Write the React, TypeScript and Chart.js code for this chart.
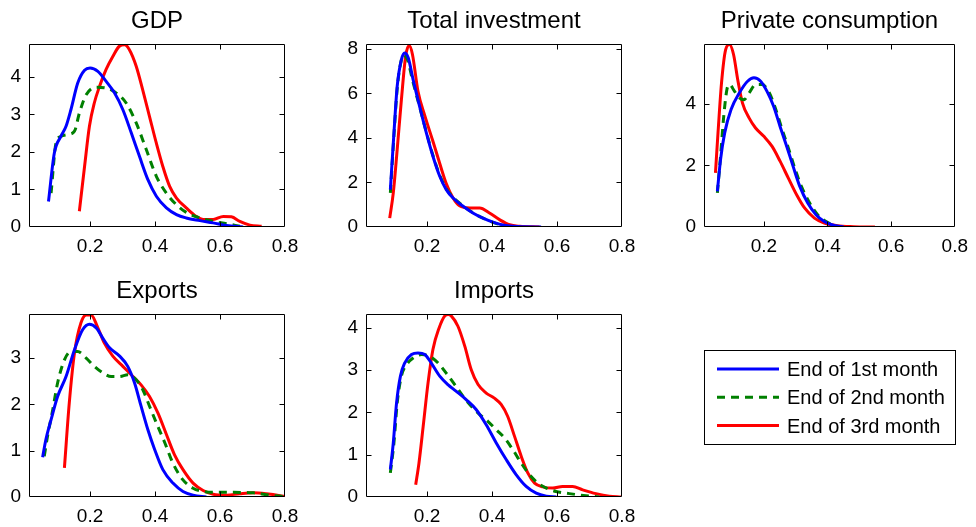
import React, { useEffect, useRef } from "react";
import { Chart, registerables } from "chart.js";
Chart.register(...registerables);

const W = 976;
const H = 527;
const FONT = '"Liberation Sans", Arial, Helvetica, sans-serif';

const seriesLabels = ["End of 1st month", "End of 2nd month", "End of 3rd month"];
const seriesColors = ["#0000ff", "#008000", "#ff0000"];
const xTicks = [0.2, 0.4, 0.6, 0.8];
const X_MIN = 0.012;
const X_MAX = 0.8;

// ---- GDP ----
const gdpX1 = [0.072, 0.09, 0.11, 0.126, 0.141, 0.162, 0.183, 0.2, 0.224, 0.249, 0.275, 0.301, 0.327, 0.352, 0.378, 0.404, 0.435, 0.466, 0.496, 0.538, 0.579, 0.62, 0.671];
const gdpY1 = [0.68, 1.97, 2.41, 2.68, 3.12, 3.83, 4.17, 4.23, 4.14, 3.88, 3.57, 3.12, 2.5, 1.88, 1.26, 0.82, 0.51, 0.33, 0.24, 0.17, 0.11, 0.04, 0.0];
const gdpX2 = [0.08, 0.095, 0.11, 0.131, 0.152, 0.167, 0.188, 0.219, 0.249, 0.28, 0.311, 0.342, 0.373, 0.404, 0.435, 0.466, 0.496, 0.538, 0.579, 0.62, 0.661];
const gdpY2 = [0.9, 2.23, 2.41, 2.46, 2.55, 3.03, 3.52, 3.72, 3.7, 3.57, 3.3, 2.77, 2.06, 1.35, 0.9, 0.59, 0.39, 0.24, 0.15, 0.09, 0.02];
const gdpX3 = [0.167, 0.183, 0.198, 0.213, 0.229, 0.249, 0.27, 0.29, 0.306, 0.321, 0.342, 0.362, 0.383, 0.404, 0.424, 0.445, 0.466, 0.496, 0.527, 0.548, 0.579, 0.61, 0.635, 0.661, 0.692, 0.728];
const gdpY3 = [0.42, 1.61, 2.68, 3.3, 3.74, 4.19, 4.54, 4.81, 4.85, 4.72, 4.28, 3.65, 2.94, 2.23, 1.61, 1.08, 0.77, 0.51, 0.28, 0.2, 0.2, 0.28, 0.27, 0.15, 0.05, 0.02];
const gdpYTicks = [0, 1, 2, 3, 4];
const gdpYMax = 4.87;

// ---- Total investment ----
const invX1 = [0.087, 0.098, 0.108, 0.121, 0.131, 0.142, 0.157, 0.177, 0.198, 0.218, 0.239, 0.259, 0.28, 0.311, 0.341, 0.372, 0.403, 0.433, 0.464, 0.5, 0.551];
const invY1 = [1.68, 4.22, 6.32, 7.52, 7.82, 7.6, 6.62, 5.42, 4.22, 3.18, 2.28, 1.68, 1.3, 0.93, 0.63, 0.4, 0.22, 0.09, 0.03, 0.01, 0];
const invX2 = [0.087, 0.098, 0.108, 0.12, 0.129, 0.14, 0.156, 0.177, 0.198, 0.218, 0.239, 0.259, 0.28, 0.311, 0.341, 0.372, 0.403, 0.433, 0.464];
const invY2 = [1.53, 4.1, 6.2, 7.45, 7.72, 7.5, 6.55, 5.4, 4.25, 3.22, 2.32, 1.72, 1.33, 0.95, 0.64, 0.4, 0.21, 0.07, 0.0];
const invX3 = [0.085, 0.096, 0.108, 0.121, 0.134, 0.145, 0.155, 0.172, 0.193, 0.218, 0.239, 0.259, 0.28, 0.3, 0.331, 0.362, 0.392, 0.423, 0.454, 0.485, 0.546];
const invY3 = [0.4, 1.53, 3.48, 5.72, 7.67, 8.15, 7.75, 6.1, 5.0, 3.85, 2.85, 1.95, 1.3, 0.95, 0.85, 0.85, 0.63, 0.33, 0.1, 0.03, 0];
const invYTicks = [0, 2, 4, 6, 8];
const invYMax = 8.22;

// ---- Private consumption ----
const conX1 = [0.054, 0.064, 0.077, 0.097, 0.123, 0.149, 0.169, 0.19, 0.21, 0.231, 0.251, 0.272, 0.292, 0.313, 0.338, 0.364, 0.39, 0.421, 0.451];
const conY1 = [1.16, 2.19, 3.06, 3.82, 4.36, 4.74, 4.85, 4.74, 4.41, 3.92, 3.27, 2.62, 1.97, 1.32, 0.78, 0.4, 0.18, 0.05, 0];
const conX2 = [0.054, 0.064, 0.074, 0.084, 0.092, 0.108, 0.123, 0.138, 0.154, 0.174, 0.195, 0.215, 0.236, 0.256, 0.277, 0.297, 0.318, 0.344, 0.369, 0.4, 0.431];
const conY2 = [1.11, 2.3, 3.6, 4.47, 4.63, 4.41, 4.2, 4.14, 4.36, 4.63, 4.63, 4.41, 3.87, 3.22, 2.57, 1.92, 1.32, 0.78, 0.4, 0.15, 0.02];
const conX3 = [0.048, 0.056, 0.067, 0.08, 0.092, 0.105, 0.118, 0.133, 0.154, 0.174, 0.2, 0.226, 0.251, 0.277, 0.303, 0.328, 0.359, 0.39, 0.431, 0.482, 0.549];
const conY3 = [1.76, 3.06, 4.68, 5.77, 5.93, 5.6, 4.79, 4.03, 3.54, 3.22, 2.95, 2.62, 2.14, 1.59, 1.05, 0.62, 0.29, 0.13, 0.04, 0.01, 0];
const conYTicks = [0, 2, 4];
const conYMax = 5.95;

// ---- Exports ----
const expX1 = [0.054, 0.064, 0.08, 0.1, 0.126, 0.152, 0.177, 0.198, 0.219, 0.239, 0.26, 0.291, 0.316, 0.337, 0.357, 0.378, 0.399, 0.424, 0.455, 0.486, 0.517, 0.558];
const expY1 = [0.86, 1.24, 1.67, 2.17, 2.6, 3.18, 3.61, 3.73, 3.65, 3.43, 3.22, 3.04, 2.82, 2.46, 1.96, 1.45, 1.02, 0.59, 0.3, 0.12, 0.04, 0];
const expX2 = [0.059, 0.069, 0.085, 0.1, 0.121, 0.141, 0.162, 0.188, 0.213, 0.239, 0.265, 0.291, 0.316, 0.342, 0.362, 0.383, 0.404, 0.43, 0.455, 0.486, 0.517, 0.548, 0.579, 0.641, 0.702, 0.754, 0.795];
const expY2 = [0.88, 1.31, 1.88, 2.46, 2.96, 3.14, 3.14, 3.0, 2.82, 2.68, 2.6, 2.6, 2.64, 2.53, 2.32, 1.96, 1.6, 1.17, 0.73, 0.37, 0.19, 0.12, 0.1, 0.1, 0.09, 0.04, 0.01];
const expX3 = [0.121, 0.136, 0.152, 0.172, 0.188, 0.203, 0.224, 0.244, 0.27, 0.301, 0.332, 0.357, 0.383, 0.409, 0.435, 0.46, 0.486, 0.517, 0.548, 0.579, 0.62, 0.661, 0.702, 0.743, 0.785, 0.8];
const expY3 = [0.63, 2.03, 3.11, 3.76, 3.93, 3.93, 3.65, 3.32, 3.04, 2.82, 2.6, 2.42, 2.17, 1.81, 1.35, 0.91, 0.59, 0.3, 0.14, 0.06, 0.04, 0.07, 0.09, 0.07, 0.03, 0.01];
const expYTicks = [0, 1, 2, 3];
const expYMax = 3.95;

// ---- Imports ----
const impX1 = [0.087, 0.096, 0.106, 0.118, 0.131, 0.152, 0.172, 0.193, 0.213, 0.239, 0.264, 0.29, 0.321, 0.351, 0.382, 0.413, 0.444, 0.474, 0.505, 0.536, 0.567, 0.598];
const impY1 = [0.65, 1.28, 2.22, 2.86, 3.17, 3.37, 3.41, 3.37, 3.17, 2.86, 2.66, 2.5, 2.3, 2.07, 1.71, 1.28, 0.88, 0.53, 0.25, 0.09, 0.02, 0];
const impX2 = [0.087, 0.098, 0.108, 0.121, 0.137, 0.157, 0.183, 0.208, 0.234, 0.259, 0.285, 0.311, 0.336, 0.362, 0.387, 0.413, 0.438, 0.464, 0.49, 0.515, 0.541, 0.567, 0.597, 0.638, 0.689, 0.73];
const impY2 = [0.57, 1.28, 2.22, 2.86, 3.13, 3.29, 3.37, 3.33, 3.17, 2.93, 2.66, 2.38, 2.15, 1.95, 1.79, 1.59, 1.4, 1.12, 0.8, 0.53, 0.33, 0.21, 0.13, 0.08, 0.03, 0];
const impX3 = [0.165, 0.175, 0.188, 0.203, 0.218, 0.237, 0.254, 0.265, 0.275, 0.295, 0.316, 0.336, 0.357, 0.382, 0.407, 0.428, 0.448, 0.469, 0.49, 0.51, 0.531, 0.556, 0.587, 0.617, 0.648, 0.679, 0.72, 0.761, 0.797];
const impY3 = [0.29, 0.8, 1.67, 2.7, 3.49, 4.0, 4.28, 4.32, 4.28, 4.04, 3.57, 3.01, 2.66, 2.46, 2.34, 2.19, 1.91, 1.44, 0.96, 0.57, 0.33, 0.24, 0.21, 0.25, 0.25, 0.17, 0.08, 0.02, 0];
const impYTicks = [0, 1, 2, 3, 4];
const impYMax = 4.33;

type PanelDef = {
  title: string;
  xs: number[][];
  ys: number[][];
  yTicks: number[];
  yMax: number;
  box: { left: number; top: number; right: number; bottom: number };
  legend?: boolean;
};

const COLS = [
  [29, 285],
  [366, 622],
  [704, 960],
];
const ROWS = [
  [44, 227],
  [314, 497],
];
const boxAt = (r: number, c: number) => ({ left: COLS[c][0], right: COLS[c][1], top: ROWS[r][0], bottom: ROWS[r][1] });

const panels: PanelDef[] = [
  { title: "GDP", xs: [gdpX1, gdpX2, gdpX3], ys: [gdpY1, gdpY2, gdpY3], yTicks: gdpYTicks, yMax: gdpYMax, box: boxAt(0, 0) },
  { title: "Total investment", xs: [invX1, invX2, invX3], ys: [invY1, invY2, invY3], yTicks: invYTicks, yMax: invYMax, box: boxAt(0, 1) },
  { title: "Private consumption", xs: [conX1, conX2, conX3], ys: [conY1, conY2, conY3], yTicks: conYTicks, yMax: conYMax, box: boxAt(0, 2) },
  { title: "Exports", xs: [expX1, expX2, expX3], ys: [expY1, expY2, expY3], yTicks: expYTicks, yMax: expYMax, box: boxAt(1, 0) },
  { title: "Imports", xs: [impX1, impX2, impX3], ys: [impY1, impY2, impY3], yTicks: impYTicks, yMax: impYMax, box: boxAt(1, 1), legend: true },
];

const YW = 25;
const XH = 30;
const TICK_LEN = 5;

const framePlugin = {
  id: "matlabFrame",
  afterDatasetsDraw(chart: any) {
    const { ctx, chartArea: a, scales } = chart;
    const L = Math.round(a.left) + 0.5;
    const R = Math.round(a.right) - 0.5;
    const T = Math.round(a.top) + 0.5;
    const B = Math.round(a.bottom) - 0.5;
    ctx.save();
    ctx.strokeStyle = "#000";
    ctx.lineWidth = 1;
    ctx.beginPath();
    ctx.rect(L, T, R - L, B - T);
    const xs = scales.x;
    for (const t of xs.ticks) {
      if (t.value <= xs.min || t.value >= xs.max) continue;
      const px = Math.round(xs.getPixelForValue(t.value)) + 0.5;
      ctx.moveTo(px, B);
      ctx.lineTo(px, B - TICK_LEN);
      ctx.moveTo(px, T);
      ctx.lineTo(px, T + TICK_LEN);
    }
    const ys = scales.y;
    for (const t of ys.ticks) {
      if (t.value <= ys.min || t.value >= ys.max) continue;
      const py = Math.round(ys.getPixelForValue(t.value)) + 0.5;
      ctx.moveTo(L, py);
      ctx.lineTo(L + TICK_LEN, py);
      ctx.moveTo(R, py);
      ctx.lineTo(R - TICK_LEN, py);
    }
    ctx.stroke();
    // title
    const title = chart.options.plugins.matlabFrame?.title;
    if (title) {
      ctx.fillStyle = "#000";
      ctx.font = `24px ${FONT}`;
      ctx.textAlign = "center";
      ctx.textBaseline = "alphabetic";
      ctx.fillText(title, (a.left + a.right) / 2, a.top - 16);
    }
    // legend
    if (chart.options.plugins.matlabFrame?.legend) {
      const lx = 704, ly = 350, lw = 252, lh = 95;
      ctx.fillStyle = "#fff";
      ctx.fillRect(lx, ly, lw, lh);
      ctx.strokeStyle = "#000";
      ctx.lineWidth = 1;
      ctx.strokeRect(lx + 0.5, ly + 0.5, lw - 1, lh - 1);
      chart.data.datasets.forEach((ds: any, i: number) => {
        const cy = 369 + i * 28.3;
        ctx.save();
        ctx.strokeStyle = ds.borderColor;
        ctx.lineWidth = 3;
        ctx.setLineDash(ds.borderDash || []);
        ctx.beginPath();
        ctx.moveTo(717, cy);
        ctx.lineTo(779, cy);
        ctx.stroke();
        ctx.restore();
        ctx.fillStyle = "#000";
        ctx.font = `20px ${FONT}`;
        ctx.textAlign = "left";
        ctx.textBaseline = "alphabetic";
        ctx.fillText(ds.label, 787, cy + 7);
      });
    }
    ctx.restore();
  },
};

function Panel({ def }: { def: PanelDef }) {
  const ref = useRef<HTMLCanvasElement>(null);
  useEffect(() => {
    const canvas = ref.current;
    if (!canvas) return;
    const b = def.box;
    const chart = new Chart(canvas, {
      type: "line",
      data: {
        datasets: def.xs.map((xArr, i) => ({
          label: seriesLabels[i],
          data: xArr.map((x, j) => ({ x, y: def.ys[i][j] })),
          borderColor: seriesColors[i],
          backgroundColor: seriesColors[i],
          borderWidth: 3,
          borderDash: i === 1 ? [8, 6] : [],
          pointRadius: 0,
          cubicInterpolationMode: "monotone",
          fill: false,
        })),
      },
      options: {
        responsive: false,
        animation: false,
        devicePixelRatio: 1,
        events: [],
        layout: {
          padding: { left: b.left - YW, right: W - b.right, top: b.top, bottom: H - b.bottom - XH },
        },
        plugins: {
          legend: { display: false },
          tooltip: { enabled: false },
          title: { display: false },
          matlabFrame: { title: def.title, legend: !!def.legend },
        } as any,
        scales: {
          x: {
            type: "linear",
            min: X_MIN,
            max: X_MAX,
            afterBuildTicks: (s: any) => {
              s.ticks = xTicks.map((v) => ({ value: v }));
            },
            afterFit: (s: any) => {
              s.height = XH;
            },
            grid: { display: false, drawTicks: false },
            border: { display: false },
            ticks: {
              padding: 8,
              color: "#000",
              autoSkip: false,
              maxRotation: 0,
              font: { family: FONT, size: 19 },
              callback: (v: any) => Number(v).toFixed(1),
            },
          },
          y: {
            type: "linear",
            min: 0,
            max: def.yMax,
            afterBuildTicks: (s: any) => {
              s.ticks = def.yTicks.map((v) => ({ value: v }));
            },
            afterFit: (s: any) => {
              s.width = YW;
            },
            grid: { display: false, drawTicks: false },
            border: { display: false },
            ticks: {
              padding: 8,
              color: "#000",
              autoSkip: false,
              font: { family: FONT, size: 19 },
              callback: (v: any) => String(v),
            },
          },
        },
      } as any,
      plugins: [framePlugin],
    });
    return () => chart.destroy();
  }, [def]);
  return (
    <canvas
      ref={ref}
      width={W}
      height={H}
      style={{ position: "absolute", left: 0, top: 0, width: W, height: H }}
    />
  );
}

export default function App() {
  return (
    <div style={{ position: "fixed", left: 0, top: 0, width: W, height: H, background: "#fff", overflow: "hidden" }}>
      {panels.map((p) => (
        <Panel key={p.title} def={p} />
      ))}
    </div>
  );
}
